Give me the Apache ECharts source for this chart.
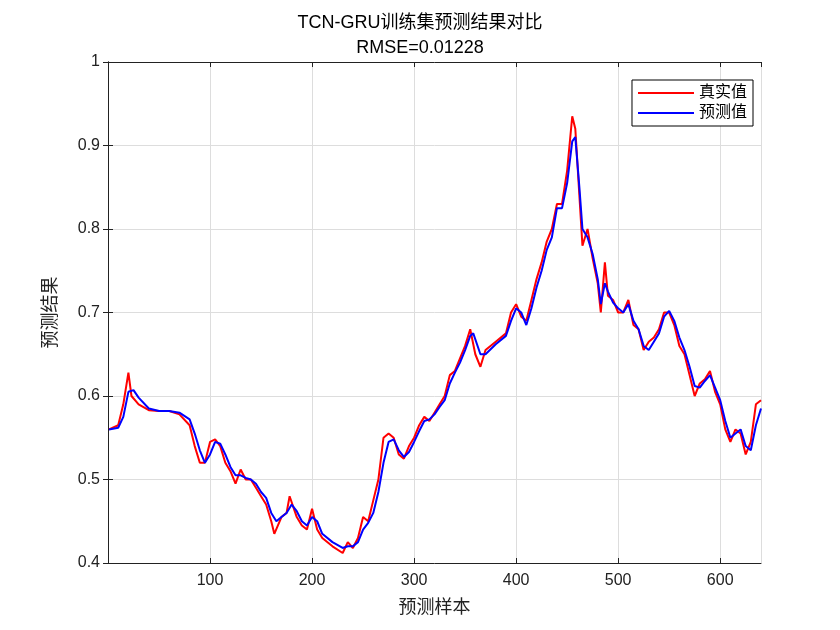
<!DOCTYPE html>
<html><head><meta charset="utf-8">
<script src="https://cdn.jsdelivr.net/npm/echarts@6/dist/echarts.min.js"></script>
<style>body{margin:0}#c{width:840px;height:630px}</style></head>
<body><div id="c"></div>
<script>
const trueX = [1,10,15,20,23,30,40,50,60,70,80,85,90,95,100,105,110,115,120,125,130,135,140,145,150,155,160,163,170,175,178,185,190,195,200,205,210,220,230,235,240,245,250,255,260,265,270,275,280,285,290,295,300,305,310,315,320,325,330,335,340,345,350,355,360,365,370,380,390,395,400,405,410,415,420,425,430,435,440,445,450,455,458,462,465,470,475,480,483,487,490,495,500,505,510,515,520,525,530,535,540,545,550,555,560,565,570,575,580,585,590,595,600,605,610,615,620,625,630,635,640];
const trueY = [0.56,0.565,0.59,0.628,0.60,0.59,0.583,0.582,0.582,0.578,0.565,0.54,0.52,0.52,0.545,0.548,0.54,0.52,0.51,0.495,0.512,0.50,0.50,0.49,0.48,0.47,0.45,0.435,0.455,0.46,0.48,0.455,0.445,0.44,0.465,0.44,0.43,0.42,0.412,0.425,0.418,0.43,0.455,0.45,0.475,0.50,0.55,0.555,0.55,0.53,0.525,0.54,0.55,0.565,0.575,0.57,0.58,0.59,0.60,0.625,0.63,0.645,0.66,0.68,0.65,0.635,0.655,0.665,0.675,0.70,0.71,0.695,0.69,0.715,0.74,0.76,0.785,0.80,0.83,0.83,0.87,0.935,0.92,0.84,0.78,0.80,0.765,0.735,0.70,0.76,0.72,0.715,0.70,0.70,0.715,0.685,0.68,0.655,0.665,0.67,0.68,0.70,0.70,0.685,0.66,0.65,0.625,0.60,0.615,0.62,0.63,0.605,0.59,0.56,0.545,0.56,0.555,0.53,0.545,0.59,0.595];
const predX = [1,10,15,20,25,30,40,50,60,70,80,85,90,95,100,105,110,115,120,125,130,135,140,145,150,155,160,165,170,175,180,185,190,195,200,205,210,220,230,235,240,245,250,255,260,265,270,275,280,285,290,295,300,305,310,315,320,325,330,335,340,345,350,355,358,365,370,380,390,395,400,405,410,415,420,425,430,435,440,445,450,455,458,462,465,470,475,480,483,487,490,495,500,505,510,515,520,525,530,535,540,545,550,555,560,565,570,575,580,585,590,595,600,605,610,615,620,625,630,635,640];
const predY = [0.56,0.562,0.575,0.605,0.607,0.598,0.585,0.582,0.582,0.58,0.572,0.555,0.535,0.52,0.53,0.545,0.543,0.53,0.515,0.505,0.505,0.502,0.50,0.495,0.485,0.478,0.46,0.45,0.455,0.46,0.47,0.462,0.45,0.445,0.455,0.45,0.435,0.425,0.418,0.42,0.42,0.425,0.44,0.448,0.46,0.485,0.52,0.545,0.548,0.535,0.527,0.533,0.545,0.558,0.57,0.572,0.578,0.587,0.595,0.615,0.628,0.64,0.655,0.672,0.675,0.65,0.65,0.662,0.672,0.69,0.705,0.70,0.685,0.705,0.73,0.75,0.775,0.79,0.825,0.825,0.855,0.905,0.91,0.85,0.80,0.79,0.77,0.74,0.71,0.735,0.725,0.712,0.705,0.70,0.71,0.69,0.68,0.66,0.655,0.665,0.675,0.695,0.702,0.69,0.67,0.655,0.635,0.612,0.61,0.618,0.625,0.61,0.595,0.57,0.55,0.555,0.56,0.54,0.535,0.565,0.585];
const pair=(xs,ys)=>xs.map((x,i)=>[x,ys[i]]);
const ch = echarts.init(document.getElementById('c'));
const f='Arial, "Liberation Sans", "Noto Sans CJK SC"';
const ax={color:'#222'};
ch.setOption({
 animation:false,
 title:{text:'TCN-GRU训练集预测结果对比\nRMSE=0.01228',left:'center',top:6,textStyle:{fontFamily:f,fontSize:18,fontWeight:'normal',color:'#000',lineHeight:25}},
 grid:{left:108,right:79,top:62,bottom:67},
 legend:{right:87,top:80,orient:'vertical',backgroundColor:'#fff',borderColor:'#000',borderWidth:1,borderRadius:0,padding:[5,6],itemGap:4,itemWidth:56,itemHeight:2,icon:'rect',textStyle:{fontFamily:f,fontSize:16,color:'#000'},data:['真实值','预测值']},
 xAxis:[{type:'value',min:0,max:640,interval:100,name:'预测样本',nameLocation:'middle',nameGap:36,nameTextStyle:{fontFamily:f,fontSize:18,color:'#222'},
  axisLine:{lineStyle:ax},axisTick:{inside:true,lineStyle:ax},axisLabel:{fontFamily:f,fontSize:16,color:'#222',showMinLabel:false,showMaxLabel:false,margin:10},
  splitLine:{show:true,lineStyle:{color:'#ddd'}}},
  {type:'value',position:'top',min:0,max:640,interval:100,axisLine:{show:true,lineStyle:ax},axisTick:{inside:true,lineStyle:ax},axisLabel:{show:false},splitLine:{show:false}}],
 yAxis:[{type:'value',min:0.4,max:1,interval:0.1,name:'预测结果',nameLocation:'middle',nameGap:48,nameTextStyle:{fontFamily:f,fontSize:18,color:'#222'},
  axisLine:{show:true,lineStyle:ax},axisTick:{show:true,inside:true,lineStyle:ax},axisLabel:{fontFamily:f,fontSize:16,color:'#222',formatter:v=>+v.toFixed(1)+''},
  splitLine:{show:true,lineStyle:{color:'#ddd'}}},
  {type:'value',position:'right',min:0.4,max:1,interval:0.1,axisLine:{show:true,lineStyle:ax},axisTick:{show:true,inside:true,lineStyle:ax},axisLabel:{show:false},splitLine:{show:false}}],
 series:[
  {name:'真实值',type:'line',data:pair(trueX,trueY),showSymbol:false,lineStyle:{color:'#ff0000',width:2},itemStyle:{color:'#ff0000'}},
  {name:'预测值',type:'line',data:pair(predX,predY),showSymbol:false,lineStyle:{color:'#0000ff',width:2},itemStyle:{color:'#0000ff'}}
 ]
});
</script></body></html>
